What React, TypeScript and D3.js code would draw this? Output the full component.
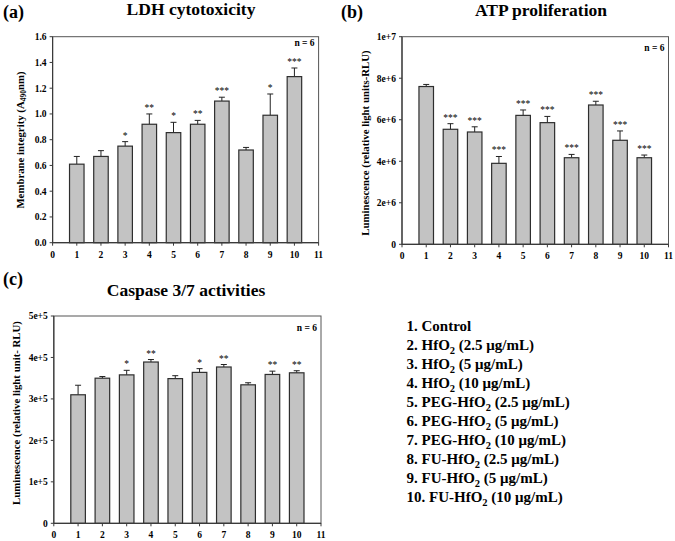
import React from "react";
import * as d3 from "d3";

const groups = [1, 2, 3, 4, 5, 6, 7, 8, 9, 10];
const xTicks = [0, 1, 2, 3, 4, 5, 6, 7, 8, 9, 10, 11];

const ldhMean = [0.61, 0.67, 0.75, 0.92, 0.855, 0.92, 1.1, 0.72, 0.99, 1.29];
const ldhErr = [0.06, 0.045, 0.035, 0.08, 0.08, 0.03, 0.03, 0.02, 0.165, 0.067];
const ldhSig = ["", "", "*", "**", "*", "**", "***", "", "*", "***"];
const ldhTicks = [0, 0.2, 0.4, 0.6, 0.8, 1.0, 1.2, 1.4, 1.6];
const ldhTickLabels = ["0.0", "0.2", "0.4", "0.6", "0.8", "1.0", "1.2", "1.4", "1.6"];

const atpMean = [7.6e6, 5.54e6, 5.41e6, 3.9e6, 6.21e6, 5.86e6, 4.17e6, 6.71e6, 5.01e6, 4.17e6];
const atpErr = [0.1e6, 0.27e6, 0.25e6, 0.33e6, 0.26e6, 0.3e6, 0.16e6, 0.18e6, 0.45e6, 0.13e6];
const atpSig = ["", "***", "***", "***", "***", "***", "***", "***", "***", "***"];
const atpTicks = [0, 2e6, 4e6, 6e6, 8e6, 1e7];
const atpTickLabels = ["0", "2e+6", "4e+6", "6e+6", "8e+6", "1e+7"];

const caspMean = [3.1e5, 3.5e5, 3.58e5, 3.89e5, 3.49e5, 3.64e5, 3.77e5, 3.34e5, 3.59e5, 3.63e5];
const caspErr = [0.23e5, 0.04e5, 0.11e5, 0.06e5, 0.07e5, 0.09e5, 0.06e5, 0.05e5, 0.08e5, 0.05e5];
const caspSig = ["", "", "*", "**", "", "*", "**", "", "**", "**"];
const caspTicks = [0, 1e5, 2e5, 3e5, 4e5, 5e5];
const caspTickLabels = ["0", "1e+5", "2e+5", "3e+5", "4e+5", "5e+5"];

const legendLabels = [
  "1. Control",
  "2. HfO2 (2.5 μg/mL)",
  "3. HfO2 (5 μg/mL)",
  "4. HfO2 (10 μg/mL)",
  "5. PEG-HfO2 (2.5 μg/mL)",
  "6. PEG-HfO2 (5 μg/mL)",
  "7. PEG-HfO2 (10 μg/mL)",
  "8. FU-HfO2 (2.5 μg/mL)",
  "9. FU-HfO2 (5 μg/mL)",
  "10. FU-HfO2 (10 μg/mL)",
];

const FONT = "'Liberation Serif', 'Times New Roman', serif";
const AXIS = "#3a3a3a";

type PanelProps = {
  x0: number;
  x1: number;
  yTop: number;
  yBot: number;
  yMax: number;
  ticks: number[];
  tickLabels: string[];
  mean: number[];
  err: number[];
  sig: string[];
  ylabel: React.ReactNode;
  ylabelX: number;
  ylabelY: number;
  title: string;
  titleX: number;
  titleY: number;
  letter: string;
  letterX: number;
  letterY: number;
  nY: number;
};

function Panel(p: PanelProps) {
  const x = d3.scaleLinear().domain([0, 11]).range([p.x0, p.x1]);
  const y = d3.scaleLinear().domain([0, p.yMax]).range([p.yBot, p.yTop]);
  const bw = (x(1) - x(0)) * 0.6;
  const capW = 6;
  return (
    <g fontFamily={FONT} fontWeight="bold">
      <text x={p.letterX} y={p.letterY} fontSize={18}>
        {p.letter}
      </text>
      <text x={p.titleX} y={p.titleY} fontSize={17.5} textAnchor="middle">
        {p.title}
      </text>
      <rect
        x={p.x0}
        y={p.yTop}
        width={p.x1 - p.x0}
        height={p.yBot - p.yTop}
        fill="none"
        stroke="#555"
        strokeWidth={1}
      />
      {groups.map((g, i) => {
        const top = y(p.mean[i]);
        const capY = y(p.mean[i] + p.err[i]);
        const cx = x(g);
        return (
          <g key={g}>
            <line x1={cx} x2={cx} y1={top} y2={capY} stroke="#222" strokeWidth={1} />
            <line x1={cx - capW / 2} x2={cx + capW / 2} y1={capY} y2={capY} stroke="#222" strokeWidth={1} />
            <rect
              x={cx - bw / 2}
              y={top}
              width={bw}
              height={p.yBot - top}
              fill="#c3c3c3"
              stroke="#2e2e2e"
              strokeWidth={1.2}
            />
            {p.sig[i] && (
              <text x={cx} y={capY - 3} fontSize={9.5} textAnchor="middle" fontWeight="normal">
                {p.sig[i]}
              </text>
            )}
          </g>
        );
      })}
      <line x1={p.x0} x2={p.x0} y1={p.yTop} y2={p.yBot} stroke={AXIS} strokeWidth={1.2} />
      <line x1={p.x0} x2={p.x1} y1={p.yBot} y2={p.yBot} stroke={AXIS} strokeWidth={1.2} />
      {p.ticks.map((t, i) => (
        <g key={"y" + i}>
          <line x1={p.x0 - 3} x2={p.x0} y1={y(t)} y2={y(t)} stroke={AXIS} />
          <text x={p.x0 - 6} y={y(t) + 3.3} fontSize={9.5} textAnchor="end">
            {p.tickLabels[i]}
          </text>
        </g>
      ))}
      {xTicks.map((t) => (
        <g key={"x" + t}>
          <line x1={x(t)} x2={x(t)} y1={p.yBot} y2={p.yBot + 3} stroke={AXIS} />
          <text x={x(t)} y={p.yBot + 15} fontSize={9.5} textAnchor="middle">
            {t}
          </text>
        </g>
      ))}
      <text
        transform={`translate(${p.ylabelX},${p.ylabelY}) rotate(-90)`}
        fontSize={10.8}
        textAnchor="middle"
        dominantBaseline="middle"
      >
        {p.ylabel}
      </text>
      <text x={p.x1 - 4} y={p.nY} fontSize={9.5} textAnchor="end">
        n = 6
      </text>
    </g>
  );
}

function LegendLine({ label, x, y }: { label: string; x: number; y: number }) {
  const idx = label.indexOf("HfO2");
  if (idx < 0) {
    return (
      <text x={x} y={y}>
        {label}
      </text>
    );
  }
  const before = label.slice(0, idx) + "HfO";
  const after = label.slice(idx + 4);
  return (
    <text x={x} y={y}>
      {before}
      <tspan dy={4} fontSize={10.5}>
        2
      </tspan>
      <tspan dy={-4}>{after}</tspan>
    </text>
  );
}

export default function App() {
  const legY = d3.scaleLinear().domain([0, 9]).range([330.5, 501.5]);
  return (
    <svg
      width={675}
      height={541}
      style={{ position: "absolute", left: 0, top: 0, background: "#fff" }}
    >
      <rect width={675} height={541} fill="#fff" />
      <Panel
        x0={52.6}
        x1={318.6}
        yTop={36.7}
        yBot={242.7}
        yMax={1.6}
        ticks={ldhTicks}
        tickLabels={ldhTickLabels}
        mean={ldhMean}
        err={ldhErr}
        sig={ldhSig}
        ylabel={
          <>
            Membrane integrity (A
            <tspan fontSize={7.5} dy={2}>
              490
            </tspan>
            <tspan dy={-2}>nm)</tspan>
          </>
        }
        ylabelX={21.5}
        ylabelY={140}
        title="LDH cytotoxicity"
        titleX={191}
        titleY={15}
        letter="(a)"
        letterX={3}
        letterY={18}
        nY={46}
      />
      <Panel
        x0={402}
        x1={668.5}
        yTop={36.7}
        yBot={244.3}
        yMax={1e7}
        ticks={atpTicks}
        tickLabels={atpTickLabels}
        mean={atpMean}
        err={atpErr}
        sig={atpSig}
        ylabel="Luminescence (relative light units-RLU)"
        ylabelX={367}
        ylabelY={143}
        title="ATP proliferation"
        titleX={541}
        titleY={16}
        letter="(b)"
        letterX={341}
        letterY={18}
        nY={51}
      />
      <Panel
        x0={53.8}
        x1={321}
        yTop={316}
        yBot={523.3}
        yMax={5e5}
        ticks={caspTicks}
        tickLabels={caspTickLabels}
        mean={caspMean}
        err={caspErr}
        sig={caspSig}
        ylabel="Luminescence (relative light unit- RLU)"
        ylabelX={18}
        ylabelY={413}
        title="Caspase 3/7 activities"
        titleX={186}
        titleY={296}
        letter="(c)"
        letterX={3}
        letterY={285}
        nY={331}
      />
      <g fontFamily={FONT} fontWeight="bold" fontSize={15}>
        {legendLabels.map((l, i) => (
          <LegendLine key={i} label={l} x={406.5} y={legY(i)} />
        ))}
      </g>
    </svg>
  );
}
